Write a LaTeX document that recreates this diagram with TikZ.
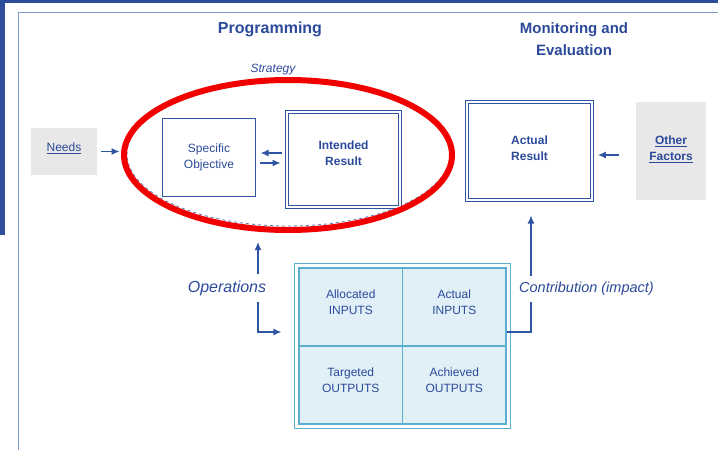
\documentclass[tikz,border=0pt]{standalone}
\usepackage{fontspec}
\setmainfont{Liberation Sans}
\usetikzlibrary{arrows.meta,shapes.geometric}
\definecolor{frameblue}{HTML}{2E4C9C}
\definecolor{lineblue}{HTML}{7D9AD3}
\definecolor{textblue}{HTML}{2C4A9B}
\definecolor{boxblue}{HTML}{2F54A4}
\definecolor{boxgray}{HTML}{E8E8E8}
\definecolor{tealline}{HTML}{5AAFCF}
\definecolor{tablefill}{HTML}{E1F0F7}
\definecolor{markred}{HTML}{F20000}
\begin{document}
\begin{tikzpicture}[x=1pt, y=-1pt, >={Latex[length=8pt,width=7pt]},
		txt/.style={text=textblue, font=\fontsize{12}{16}\selectfont, align=center},
		plainbox/.style={txt, draw=boxblue, line width=1.3pt, inner sep=0pt},
		dblbox/.style={txt, draw=boxblue, double=white, double distance=2pt, line width=1pt, inner sep=0pt, font=\fontsize{12}{16}\selectfont\bfseries},
		graybox/.style={txt, fill=boxgray, inner sep=0pt},
		cell/.style={txt, draw=tealline, fill=tablefill, line width=1.2pt, minimum width=103.5pt, minimum height=78pt, inner sep=0pt, text depth=10pt},
		title/.style={text=textblue, font=\fontsize{16}{22}\selectfont\bfseries, align=center},
		arr/.style={draw=boxblue, line width=1.2pt}]
		\useasboundingbox (0,0) rectangle (718,450);
		\fill[frameblue] (0,0) rectangle (718,3);
		\fill[frameblue] (0,0) rectangle (5,235);
		\draw[lineblue, line width=1.5pt] (18.5,450) -- (18.5,12.5) -- (718,12.5);
		
		\node[title] (prog) at (270,29) {Programming};
		\node[title, font=\fontsize{15}{22}\selectfont\bfseries] (monit) at (574,39) {Monitoring and\\Evaluation};
		\node[txt, font=\fontsize{12}{14}\selectfont\itshape] (stratlbl) at (273,70) {Strategy};
		\node[ellipse, draw=boxblue!75, dashed, line width=0.9pt, minimum width=323pt, minimum height=144pt] (stratdash) at (288.5,154) {};
		
		\node[graybox, minimum width=66pt, minimum height=47pt, text depth=9pt] (needs) at (64,151.5) {\underline{Needs}};
		\node[plainbox, minimum width=93pt, minimum height=78pt] (spec) at (209,157.5) {Specific\\Objective};
		\node[dblbox, minimum width=113pt, minimum height=95pt, text depth=12pt] (intended) at (343.5,159.5) {Intended\\Result};
		\node[dblbox, minimum width=125pt, minimum height=98pt, text depth=6pt] (actual) at (529.5,151) {Actual\\Result};
		\node[graybox, minimum width=70pt, minimum height=98pt, text depth=6pt, font=\fontsize{12}{16}\selectfont\bfseries] (other) at (671,151) {\underline{Other}\\\underline{Factors}};
		
		\node[cell] (alloc) at (350.75,307) {Allocated\\INPUTS};
		\node[cell] (actinp) at (454.25,307) {Actual\\INPUTS};
		\node[cell] (targ) at (350.75,385) {Targeted\\OUTPUTS};
		\node[cell] (ach) at (454.25,385) {Achieved\\OUTPUTS};
		\draw[tealline, line width=1.2pt] ([shift={(-4,-4)}]alloc.north west) rectangle ([shift={(4,4)}]ach.south east);
		
		\node[txt, font=\fontsize{16}{18}\selectfont\itshape, inner sep=6pt] (ops) at (227,288) {Operations};
		\node[txt, font=\fontsize{14.5}{16}\selectfont\itshape, inner sep=6pt, anchor=west] (contrib) at (513,289) {Contribution (impact)};
		\coordinate (obend) at (258,332);
		\coordinate (cbend) at (531,332);
		
		\draw[arr, ->, shorten <=5pt, shorten >=4.5pt] ([yshift=6.5pt]intended.west) -- ([yshift=6.5pt]intended.west -| spec.east);
		\draw[arr, ->, shorten <=3.5pt, shorten >=6pt] ([yshift=-3.5pt]intended.west -| spec.east) -- ([yshift=-3.5pt]intended.west);
		\draw[arr, ->, shorten <=17pt, shorten >=5.4pt] ([yshift=-4pt]other.west) -- ([yshift=-4pt]other.west -| actual.east);
		\draw[arr, ->, shorten >=17pt] (obend |- ops.south) -- (obend) -- (alloc.west |- obend);
		\draw[arr] (actinp.east |- cbend) -- (cbend) -- (cbend |- contrib.south);
		\draw[arr, ->, shorten >=15pt] (cbend |- contrib.north) -- (cbend |- actual.south);
		
		\node[ellipse, draw=markred, line width=6pt, minimum width=328pt, minimum height=150pt] (strat) at (288,155) {};
		\draw[arr, ->, shorten <=4pt, shorten >=1.5pt] (needs.east) -- (needs.east -| strat.west);
		\draw[arr, ->, shorten >=9pt] (obend |- ops.north) -- (obend |- strat.south);
	\end{tikzpicture}
\end{document}
